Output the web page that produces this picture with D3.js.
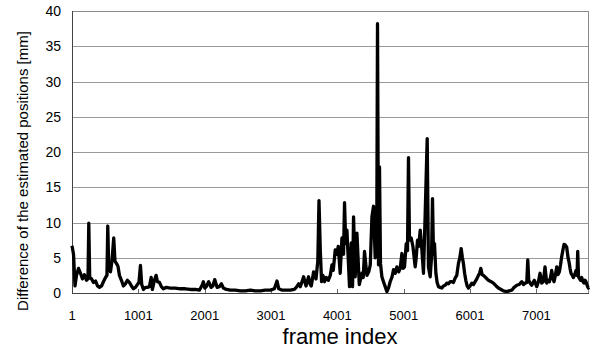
<!DOCTYPE html>
<html>
<head>
<meta charset="utf-8">
<script src="https://cdn.jsdelivr.net/npm/d3@7"></script>
<style>
  body { margin: 0; background: #fff; }
  svg { display: block; }
  .tick-label { font-family: "Liberation Sans", Arial, sans-serif; font-size: 13px; fill: #000; }
  .axis-title { font-family: "Liberation Sans", Arial, sans-serif; fill: #000; }
</style>
</head>
<body>
<svg id="chart" width="594" height="349"></svg>
<script>
// frame numbers and the estimated position difference (mm)
const frames = [
  1, 24, 46, 69, 99, 129, 159, 189, 219, 242, 254, 268, 295, 325, 356, 386, 415, 446, 475, 506,
  528, 540, 555, 581, 603, 630, 649, 671, 694, 716, 746, 776, 806, 836, 866, 897, 927, 957, 987, 1010,
  1033, 1052, 1078, 1108, 1138, 1168, 1194, 1213, 1243, 1269, 1289, 1319, 1348, 1379, 1424, 1483, 1559, 1634, 1709, 1784,
  1860, 1921, 1962, 1981, 2004, 2026, 2061, 2097, 2124, 2152, 2188, 2222, 2253, 2283, 2327, 2388, 2463, 2538, 2614, 2689,
  2764, 2840, 2915, 2991, 3051, 3091, 3118, 3171, 3231, 3291, 3352, 3382, 3417, 3442, 3465, 3492, 3528, 3567, 3593, 3608,
  3643, 3679, 3706, 3724, 3744, 3763, 3784, 3808, 3834, 3864, 3894, 3920, 3939, 3969, 3992, 4014, 4044, 4070, 4094, 4109,
  4127, 4145, 4184, 4210, 4230, 4245, 4270, 4296, 4331, 4371, 4391, 4410, 4446, 4474, 4497, 4522, 4546, 4571, 4594, 4606,
  4621, 4636, 4651, 4672, 4700, 4722, 4748, 4775, 4797, 4823, 4847, 4873, 4898, 4926, 4948, 4974, 4993, 5013, 5039, 5058,
  5073, 5088, 5114, 5140, 5174, 5189, 5209, 5227, 5250, 5275, 5299, 5325, 5355, 5374, 5400, 5420, 5435, 5450, 5465, 5486,
  5505, 5525, 5550, 5576, 5600, 5626, 5651, 5676, 5701, 5727, 5751, 5776, 5801, 5826, 5847, 5867, 5886, 5901, 5919, 5937,
  5957, 5977, 6002, 6028, 6052, 6078, 6103, 6127, 6145, 6163, 6183, 6203, 6236, 6278, 6319, 6353, 6394, 6428, 6469, 6504,
  6555, 6590, 6630, 6665, 6706, 6740, 6781, 6808, 6831, 6856, 6871, 6886, 6901, 6931, 6951, 6970, 7006, 7031, 7056, 7081,
  7105, 7131, 7157, 7177, 7196, 7214, 7232, 7252, 7267, 7287, 7308, 7327, 7347, 7365, 7383, 7403, 7418, 7437, 7458, 7478,
  7493, 7508, 7523, 7543, 7558, 7579, 7598, 7614, 7624, 7636, 7648, 7666, 7684, 7704, 7719, 7734, 7749, 7769, 7784, 7794
];
const diffs = [
  6.7, 5.5, 1.0, 2.5, 3.5, 2.8, 2.0, 2.6, 1.8, 2.0, 9.9, 2.2, 2.0, 1.5, 1.7, 1.0, 0.8, 1.0, 1.6, 2.2,
  2.5, 9.5, 3.5, 3.0, 4.5, 7.8, 4.5, 4.2, 3.8, 2.5, 1.8, 1.0, 1.3, 1.8, 1.5, 1.0, 0.6, 0.8, 1.2, 1.5,
  3.9, 1.2, 0.5, 0.8, 0.8, 0.9, 2.2, 0.5, 1.8, 2.5, 1.6, 1.5, 0.9, 0.6, 0.8, 0.7, 0.7, 0.6, 0.6, 0.5,
  0.5, 0.4, 1.1, 1.6, 0.7, 0.9, 1.6, 0.8, 1.0, 1.9, 0.8, 0.9, 1.3, 0.7, 0.5, 0.4, 0.4, 0.3, 0.3, 0.4,
  0.3, 0.3, 0.4, 0.4, 0.6, 1.7, 0.6, 0.4, 0.4, 0.4, 0.5, 0.8, 1.3, 0.9, 1.5, 2.3, 1.0, 2.3, 1.2, 1.0,
  3.0, 2.0, 4.5, 13.1, 6.0, 1.6, 2.5, 1.6, 2.2, 1.8, 2.5, 4.0, 3.2, 6.1, 5.5, 6.6, 2.8, 7.8, 5.5, 12.8,
  7.0, 8.9, 0.9, 7.1, 0.9, 10.8, 2.3, 8.5, 1.2, 2.8, 2.2, 5.9, 2.5, 3.0, 4.0, 10.8, 12.3, 5.0, 6.0, 38.2,
  4.0, 17.9, 4.2, 2.3, 1.5, 0.9, 0.2, 0.8, 1.6, 2.2, 3.3, 2.8, 3.7, 3.0, 3.5, 5.6, 3.5, 3.7, 7.0, 6.0,
  19.2, 7.5, 7.8, 6.6, 3.7, 5.0, 7.5, 6.6, 8.9, 6.1, 2.8, 11.3, 21.9, 3.7, 2.3, 5.0, 13.4, 5.5, 7.0, 2.8,
  1.5, 0.9, 0.8, 0.7, 1.0, 1.1, 1.4, 1.3, 1.6, 1.6, 1.5, 2.1, 2.5, 4.2, 5.0, 6.3, 5.0, 4.2, 2.8, 1.8,
  1.0, 0.7, 1.0, 1.4, 1.2, 1.6, 2.0, 2.5, 2.8, 3.5, 2.6, 2.5, 2.2, 1.8, 1.6, 1.4, 1.0, 0.7, 0.5, 0.3,
  0.2, 0.3, 0.4, 0.8, 1.1, 1.2, 1.6, 1.2, 1.4, 1.5, 4.7, 1.8, 1.5, 1.1, 1.5, 1.8, 0.9, 1.6, 2.8, 1.4,
  1.6, 3.7, 1.4, 1.8, 1.6, 2.2, 3.2, 2.0, 1.6, 2.5, 3.7, 2.6, 3.0, 4.0, 5.2, 6.2, 6.9, 6.8, 6.5, 5.0,
  4.4, 3.5, 2.8, 2.5, 2.2, 2.6, 3.2, 2.5, 5.9, 2.3, 2.1, 1.8, 2.2, 1.6, 1.4, 1.8, 1.6, 1.0, 0.7, 0.8
];
const yTicks = [0, 5, 10, 15, 20, 25, 30, 35, 40];
const xTicks = [1, 1001, 2001, 3001, 4001, 5001, 6001, 7001];
const xTitle = "frame index";
const yTitle = "Difference of the estimated positions [mm]";

const svg = d3.select("#chart");
const margin = { left: 72, right: 5, top: 11, bottom: 56 };
const width = 594, height = 349;

const x = d3.scaleLinear()
  .domain([1, 7794])
  .range([margin.left, width - margin.right]);
const y = d3.scaleLinear()
  .domain([0, 40])
  .range([height - margin.bottom, margin.top]);

// horizontal grid
svg.append("g")
  .selectAll("line")
  .data(yTicks.filter(t => t > 0 && t < 40))
  .join("line")
  .attr("x1", x.range()[0]).attr("x2", x.range()[1])
  .attr("y1", d => Math.round(y(d)) + 0.5).attr("y2", d => Math.round(y(d)) + 0.5)
  .attr("stroke", "#9a9a9a");

// plot frame
svg.append("rect")
  .attr("x", x.range()[0] + 0.5).attr("y", Math.round(y(40)) + 0.5)
  .attr("width", x.range()[1] - x.range()[0] - 1)
  .attr("height", Math.round(y(0)) - Math.round(y(40)))
  .attr("fill", "none").attr("stroke", "#8a8a8a");

// left axis line
svg.append("line")
  .attr("x1", x.range()[0] + 0.5).attr("x2", x.range()[0] + 0.5)
  .attr("y1", y(40)).attr("y2", y(0) + 0.5)
  .attr("stroke", "#444");

// x tick marks (inward)
svg.append("g")
  .selectAll("line")
  .data(xTicks.slice(1))
  .join("line")
  .attr("x1", d => Math.round(x(d)) + 0.5).attr("x2", d => Math.round(x(d)) + 0.5)
  .attr("y1", Math.round(y(0))).attr("y2", Math.round(y(0)) - 4)
  .attr("stroke", "#666");

// the series
const line = d3.line()
  .x((d, i) => x(frames[i]))
  .y(d => y(d));
svg.append("path")
  .datum(diffs)
  .attr("d", line)
  .attr("fill", "none")
  .attr("stroke", "#000")
  .attr("stroke-width", 3.3)
  .attr("stroke-linejoin", "round");

svg.append("line")
  .attr("x1", x.range()[0]).attr("x2", x.range()[1])
  .attr("y1", Math.round(y(0)) + 0.5).attr("y2", Math.round(y(0)) + 0.5)
  .attr("stroke", "#444");

// y tick labels
svg.append("g")
  .selectAll("text")
  .data(yTicks)
  .join("text")
  .attr("class", "tick-label")
  .attr("x", 61)
  .attr("y", d => y(d) + 5)
  .attr("text-anchor", "end")
  .style("font-size", "14px")
  .text(d => d);

// x tick labels
svg.append("g")
  .selectAll("text")
  .data(xTicks)
  .join("text")
  .attr("class", "tick-label")
  .attr("x", d => x(d))
  .attr("y", 320)
  .attr("text-anchor", "middle")
  .text(d => d);

svg.append("text")
  .attr("class", "axis-title")
  .attr("x", 340).attr("y", 344)
  .attr("text-anchor", "middle")
  .style("font-size", "22px")
  .text(xTitle);

svg.append("text")
  .attr("class", "axis-title")
  .attr("transform", "translate(28,171) rotate(-90)")
  .attr("text-anchor", "middle")
  .style("font-size", "15px")
  .text(yTitle);
</script>
</body>
</html>
